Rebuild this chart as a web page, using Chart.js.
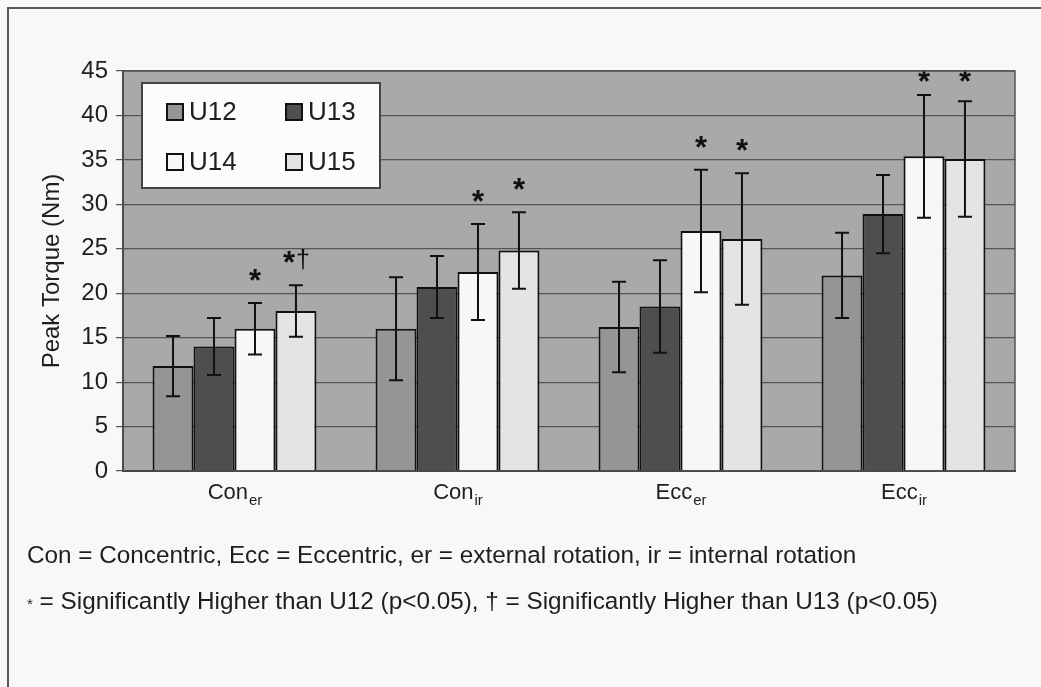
<!DOCTYPE html>
<html>
<head>
<meta charset="utf-8">
<script src="https://cdn.jsdelivr.net/npm/chart.js@4.4.1/dist/chart.umd.min.js"></script>
<style>
body { margin: 0; background: #f8f8f8; }
#wrap { position: relative; width: 1041px; height: 687px; }
#frame { position: absolute; left: 7px; top: 7px; right: 0; bottom: 0; border-left: 2px solid #5a5a5a; border-top: 2px solid #5a5a5a; }
.note { position: absolute; left: 27px; font-family: "Liberation Sans", Arial, sans-serif; font-size: 24.3px; line-height: 28px; color: #1e1e1e; white-space: nowrap; }
.note .small { font-size: 15px; }
</style>
</head>
<body>
<div id="wrap">
  <div id="frame"></div>
  <canvas id="bar"></canvas>
  <div class="note" style="top:541px">Con = Concentric, Ecc = Eccentric, er = external rotation, ir = internal rotation</div>
  <div class="note" style="top:587px"><span class="small">*</span> = Significantly Higher than U12 (p&lt;0.05), † = Significantly Higher than U13 (p&lt;0.05)</div>
</div>
<script>
// categories (main part + subscript)
const categories = ['Con', 'Con', 'Ecc', 'Ecc'];
const categorySubs = ['er', 'ir', 'er', 'ir'];
const groups = ['U12', 'U13', 'U14', 'U15'];

// mean peak torque (Nm)
const u12 = [11.8, 16.0, 16.2, 22.0];
const u13 = [14.0, 20.7, 18.5, 28.9];
const u14 = [16.0, 22.4, 27.0, 35.4];
const u15 = [18.0, 24.8, 26.1, 35.1];

// standard deviations
const u12Sd = [3.4, 5.8, 5.1, 4.8];
const u13Sd = [3.2, 3.5, 5.2, 4.4];
const u14Sd = [2.9, 5.4, 6.9, 6.9];
const u15Sd = [2.9, 4.3, 7.4, 6.5];

// significance marks
const u12Marks = ['', '', '', ''];
const u13Marks = ['', '', '', ''];
const u14Marks = ['*', '*', '*', '*'];
const u15Marks = ['*†', '*', '*', '*'];

const yTicks = [0, 5, 10, 15, 20, 25, 30, 35, 40, 45];

const FONT = '"Liberation Sans", Arial, sans-serif';
const colors = ['#959595', '#4e4e4e', '#f7f7f7', '#e4e4e4'];
const sds = [u12Sd, u13Sd, u14Sd, u15Sd];
const marks = [u12Marks, u13Marks, u14Marks, u15Marks];

const bgPlugin = {
    id: 'plotBg',
    beforeDraw(chart) {
        const a = chart.chartArea, c = chart.ctx;
        c.save();
        c.fillStyle = '#a9a9a9';
        c.fillRect(a.left, a.top, a.right - a.left, a.bottom - a.top);
        c.restore();
    },
    afterDraw(chart) {
        const a = chart.chartArea, c = chart.ctx;
        c.save();
        c.strokeStyle = '#555';
        c.lineWidth = 1.5;
        c.strokeRect(a.left, a.top, a.right - a.left, a.bottom - a.top);
        c.restore();
    }
};

const errPlugin = {
    id: 'errBars',
    afterDatasetsDraw(chart) {
        const c = chart.ctx, y = chart.scales.y;
        c.save();
        c.strokeStyle = '#111';
        c.lineWidth = 2;
        chart.data.datasets.forEach((ds, di) => {
            const meta = chart.getDatasetMeta(di);
            meta.data.forEach((el, i) => {
                const v = ds.data[i], sd = sds[di][i];
                const top = y.getPixelForValue(v + sd), bot = y.getPixelForValue(v - sd);
                c.beginPath();
                c.moveTo(el.x, top); c.lineTo(el.x, bot);
                c.moveTo(el.x - 7, top); c.lineTo(el.x + 7, top);
                c.moveTo(el.x - 7, bot); c.lineTo(el.x + 7, bot);
                c.stroke();
                const m = marks[di][i];
                if (m) {
                    c.fillStyle = '#111';
                    c.textBaseline = 'alphabetic';
                    const ty = Math.max(top - 12, chart.chartArea.top + 21);
                    const star = 'bold 31px ' + FONT, dag = '25px ' + FONT;
                    c.font = star;
                    const ws = c.measureText('*').width;
                    c.font = dag;
                    const wd = m.length > 1 ? c.measureText('†').width : 0;
                    let x0 = el.x - (ws + wd) / 2;
                    c.textAlign = 'left';
                    c.font = star;
                    c.fillText('*', x0, ty);
                    if (wd) {
                        c.font = dag;
                        c.fillText('†', x0 + ws + 1, ty - 5);
                    }
                }
            });
        });
        c.restore();
    },
    afterDraw(chart) {
        const c = chart.ctx, x = chart.scales.x;
        // category labels with subscripts
        c.save();
        c.fillStyle = '#1e1e1e';
        c.textBaseline = 'alphabetic';
        categories.forEach((lab, i) => {
            const px = x.getPixelForValue(i);
            c.font = '22px ' + FONT;
            const w1 = c.measureText(lab).width;
            c.font = '15px ' + FONT;
            const w2 = c.measureText(categorySubs[i]).width;
            const x0 = px - (w1 + w2) / 2;
            c.font = '22px ' + FONT;
            c.textAlign = 'left';
            c.fillText(lab, x0, 499);
            c.font = '15px ' + FONT;
            c.fillText(categorySubs[i], x0 + w1 + 1, 505);
        });
        // legend box
        const bx = 142, by = 83, bw = 238, bh = 105;
        c.fillStyle = '#fcfcfc';
        c.fillRect(bx, by, bw, bh);
        c.strokeStyle = '#444';
        c.lineWidth = 2;
        c.strokeRect(bx, by, bw, bh);
        c.font = '26px ' + FONT;
        c.textBaseline = 'middle';
        c.textAlign = 'left';
        chart.data.datasets.forEach((ds, di) => {
            const col = di % 2, row = Math.floor(di / 2);
            const sx = 167 + col * 119, sy = 112 + row * 50;
            c.fillStyle = ds.backgroundColor;
            c.fillRect(sx, sy - 8, 16, 16);
            c.strokeStyle = '#111';
            c.lineWidth = 2;
            c.strokeRect(sx, sy - 8, 16, 16);
            c.fillStyle = '#1e1e1e';
            c.fillText(ds.label, sx + 22, sy + 1);
        });
        c.restore();
    }
};

const ctx = document.getElementById('bar').getContext('2d');

new Chart(ctx, {
    type: 'bar',
    data: {
        labels: categories.map((c, i) => c + categorySubs[i]),
        datasets: [u12, u13, u14, u15].map((vals, i) => ({
            label: groups[i],
            data: vals,
            backgroundColor: colors[i],
            borderColor: '#111',
            borderWidth: 2,
            barPercentage: 1.0,
            categoryPercentage: 0.735
        }))
    },
    options: {
        responsive: true,
        maintainAspectRatio: false,
        animation: false,
        layout: { padding: { top: 71, right: 26, left: 0, bottom: 0 } },
        plugins: {
            legend: { display: false },
            tooltip: { enabled: false }
        },
        scales: {
            x: {
                grid: { display: false },
                border: { display: true, color: '#222', width: 2 },
                ticks: { display: false },
                afterFit(s) { s.height = 216; }
            },
            y: {
                min: 0,
                max: 45,
                afterBuildTicks(s) { s.ticks = yTicks.map(v => ({ value: v })); },
                grid: { color: '#555', lineWidth: 1.2, tickLength: 7 },
                border: { display: true, color: '#333', width: 2 },
                ticks: { font: { family: FONT, size: 24 }, color: '#1e1e1e', padding: 8 },
                title: {
                    display: true,
                    text: 'Peak Torque (Nm)',
                    font: { family: FONT, size: 24 },
                    color: '#1e1e1e',
                    padding: { top: 38, bottom: 0 }
                },
                afterFit(s) { s.width = 123; }
            }
        }
    },
    plugins: [bgPlugin, errPlugin]
});
</script>
</body>
</html>
